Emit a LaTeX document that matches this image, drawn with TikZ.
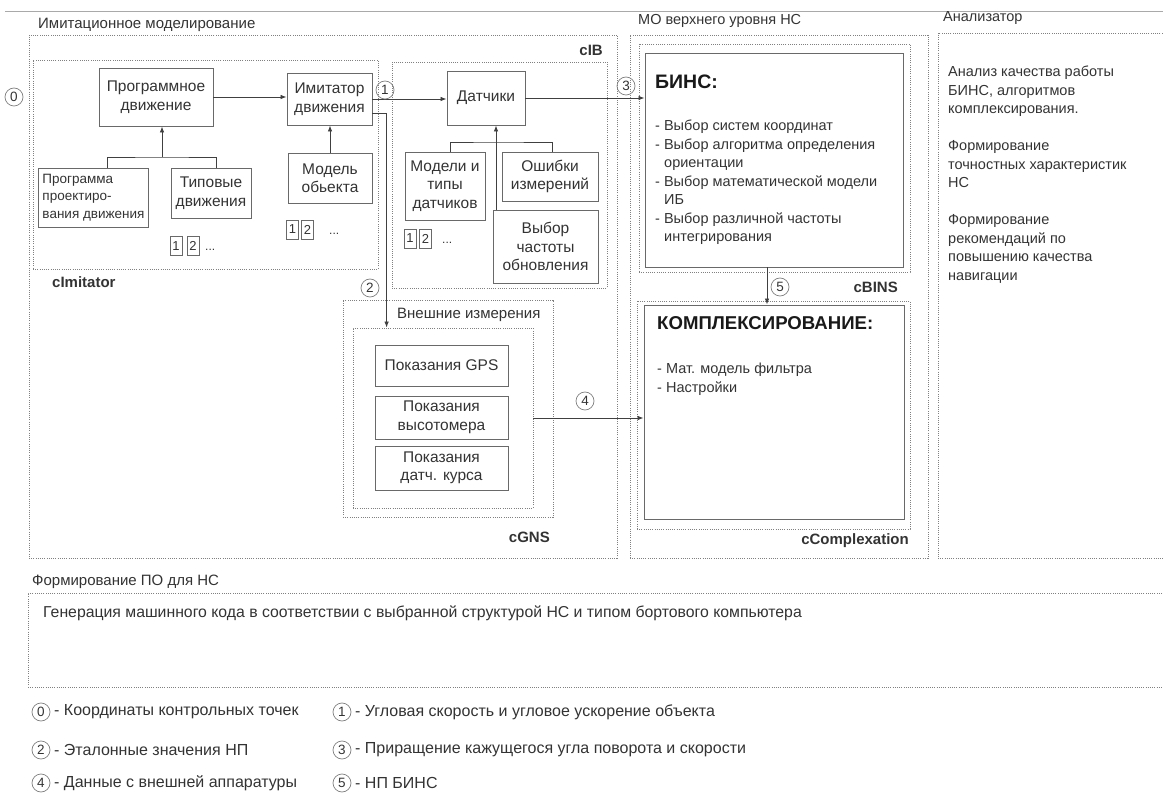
\PassOptionsToPackage{svgnames}{xcolor}
\documentclass[tikz,border=0pt]{standalone}
\usepackage{fontspec}
\setmainfont{Liberation Sans}
\usepackage{tikz}
\usetikzlibrary{arrows.meta,calc,positioning}

\begin{document}
\begin{tikzpicture}[
    x=1pt, y=-1pt,
    every node/.style={text=black!80},
    frame/.style={draw=Gray, line width=0.8pt, dash pattern=on 1pt off 1.2pt, inner sep=0pt},
    block/.style={draw=DimGray, line width=0.9pt, align=center, inner sep=0pt, font=\fontsize{15.5}{18.5}\selectfont},
    link/.style={draw=black!75, line width=0.8pt, -{Latex[length=6pt,width=4.5pt]}},
    wire/.style={draw=black!75, line width=0.8pt},
    numbadge/.style={circle, draw=Gray, line width=0.7pt, minimum size=18pt, inner sep=0pt, font=\fontsize{13.5}{13.5}\selectfont},
    tab/.style={draw=DimGray, line width=0.7pt, minimum width=12pt, minimum height=19pt, inner sep=0pt, font=\fontsize{13}{13}\selectfont},
    txt/.style={inner sep=0pt, font=\fontsize{14.5}{18.5}\selectfont},
    legend/.style={inner sep=0pt, anchor=west, font=\fontsize{16}{16}\selectfont},
    tag/.style={inner sep=0pt, font=\bfseries\fontsize{15}{15}\selectfont}
]
    \useasboundingbox (0,0) rectangle (1163,794);
    \clip (0,0) rectangle (1163,794);
    \draw[DarkGray, line width=0.8pt] (5,11) -- (1163,11);

    % --- Section frames ---
    \node[frame, minimum width=588pt, minimum height=523pt] (simbox) at (323,296.5) {};
    \node[frame, minimum width=298pt, minimum height=523pt] (mobox) at (779,296.5) {};
    \node[frame, minimum width=237pt, minimum height=525pt] (anbox) at (1056.5,295.5) {};
    \node[frame, minimum width=1147pt, minimum height=94pt] (swbox) at (601.5,640) {};
    \node[txt, anchor=west, font=\fontsize{15}{15}\selectfont] (simtitle) at (38,25) {Имитационное моделирование};
    \node[txt, anchor=west] (motitle) at (638,21) {МО верхнего уровня НС};
    \node[txt, anchor=west] (antitle) at (943,18) {Анализатор};
    \node[txt, anchor=west, font=\fontsize{15}{15}\selectfont] (swtitle) at (32,582) {Формирование ПО для НС};

    % --- cImitator ---
    \node[frame, minimum width=345pt, minimum height=209pt] (imitbox) at (205.5,164.5) {};
    \node[tag, anchor=west] (imittag) at (52,282) {cImitator};
    \node[block, minimum width=114pt, minimum height=58pt] (prog) at (156,97) {Программное\\движение};
    \node[block, minimum width=85pt, minimum height=52pt] (imit) at (329.5,99) {Имитатор\\движения};
    \node[block, minimum width=110pt, minimum height=59pt, align=left, font=\fontsize{13.5}{17.5}\selectfont] (pp) at (93,197.5) {\hspace*{4pt}Программа\\\hspace*{4pt}проектиро-\\\hspace*{4pt}вания движения\hspace*{3pt}};
    \node[block, minimum width=80pt, minimum height=50pt] (tip) at (211,193) {Типовые\\движения};
    \node[block, minimum width=84pt, minimum height=50pt] (mobj) at (330,178) {Модель\\обьекта};
    \node[tab] (pa1) at (176,246) {1};
    \node[tab] (pa2) at (193,246) {2};
    \node[txt, anchor=west, font=\fontsize{12}{12}\selectfont] (pamore) at (205,250) {...};
    \node[tab] (pb1) at (292.5,229.5) {1};
    \node[tab] (pb2) at (307.5,229.5) {2};
    \node[txt, anchor=west, font=\fontsize{12}{12}\selectfont] (pbmore) at (329,234) {...};

    % --- cIB ---
    \node[frame, minimum width=215pt, minimum height=226pt] (ibbox) at (499.5,175) {};
    \node[tag, anchor=east] (ibtag) at (603,50) {cIB};
    \node[block, minimum width=78pt, minimum height=54pt] (dat) at (486,98) {Датчики};
    \node[block, minimum width=80pt, minimum height=68pt] (mod) at (445,186) {Модели и\\типы\\датчиков};
    \node[block, minimum width=96pt, minimum height=49pt] (osh) at (550,176.5) {Ошибки\\измерений};
    \node[block, minimum width=105pt, minimum height=73pt] (vyb) at (545.5,246.5) {Выбор\\частоты\\обновления};
    \node[tab] (pc1) at (410,238.5) {1};
    \node[tab] (pc2) at (425.5,238.5) {2};
    \node[txt, anchor=west, font=\fontsize{12}{12}\selectfont] (pcmore) at (442,243) {...};

    % --- cGNS ---
    \node[frame, minimum width=210pt, minimum height=217pt] (gnsbox) at (448,408.5) {};
    \node[frame, minimum width=180pt, minimum height=180pt] (gnsin) at (443,418) {};
    \node[txt, anchor=west, font=\fontsize{15}{15}\selectfont] (gnstitle) at (397,315) {Внешние измерения};
    \node[tag, anchor=east] (gnstag) at (550,537) {cGNS};
    \node[block, minimum width=133pt, minimum height=41pt] (gps) at (441.5,365.5) {Показания GPS};
    \node[block, minimum width=133pt, minimum height=43pt] (alt) at (441.5,417.5) {Показания\\высотомера};
    \node[block, minimum width=133pt, minimum height=44pt] (crs) at (441.5,468) {Показания\\датч. курса};

    % --- cBINS ---
    \node[frame, minimum width=271pt, minimum height=228pt] (binsbox) at (774.5,158) {};
    \node[block, minimum width=258pt, minimum height=214pt] (bins) at (774,160) {};
    \node[tag, anchor=east] (binstag) at (898,287) {cBINS};
    \node[inner sep=0pt, anchor=west, font=\bfseries\fontsize{19.5}{19.5}\selectfont, text=black!90] (binstitle) at (655,82) {БИНС:};
    \node[txt, anchor=north west, align=left] (binslist) at (655,120)
        {- Выбор систем координат\\- Выбор алгоритма определения\\\hspace*{9pt}ориентации\\- Выбор математической модели\\\hspace*{9pt}ИБ\\- Выбор различной частоты\\\hspace*{9pt}интегрирования};

    % --- cComplexation ---
    \node[frame, minimum width=273pt, minimum height=228pt] (cmplxbox) at (773.5,415) {};
    \node[block, minimum width=260pt, minimum height=214pt] (cmplx) at (774,412) {};
    \node[tag, anchor=east] (cmplxtag) at (909,541) {cComplexation};
    \node[inner sep=0pt, anchor=west, font=\bfseries\fontsize{18.6}{18.6}\selectfont, text=black!90] (cmplxtitle) at (657,323) {КОМПЛЕКСИРОВАНИЕ:};
    \node[txt, anchor=north west, align=left] (cmplxlist) at (657,363) {- Мат. модель фильтра\\- Настройки};

    % --- Анализатор ---
    \node[txt, anchor=north west, align=left] (antext) at (948,66)
        {Анализ качества работы\\БИНС, алгоритмов\\комплексирования.\\[18.5pt]Формирование\\точностных характеристик\\НС\\[18.5pt]Формирование\\рекомендаций по\\повышению качества\\навигации};

    % --- ПО для НС ---
    \node[txt, anchor=west, font=\fontsize{15.8}{15.8}\selectfont] (swtext) at (43,613) {Генерация машинного кода в соответствии с выбранной структурой НС и типом бортового компьютера};

    % --- Connectors ---
    \draw[link] (prog.east) -- (prog.east -| imit.west);
    \coordinate (progfork) at (162,157);
    \draw[wire] ([xshift=14pt]pp.north) |- (progfork) -| ([xshift=5pt]tip.north);
    \draw[link] (progfork) -- (progfork |- prog.south);
    \draw[link] (mobj.north) -- (mobj.north |- imit.south);
    \draw[link] (imit.east) -- (imit.east -| dat.west);
    \draw[link] (dat.east) -- (dat.east -| bins.west);
    \coordinate (datfork) at (496,142);
    \draw[wire] ([xshift=5pt]mod.north) |- (datfork) -| ([xshift=2pt]osh.north);
    \draw[link] (datfork) -- (datfork |- dat.south);
    \draw[wire] (datfork) -- (datfork |- vyb.north);
    \draw[link] ([yshift=-14pt]imit.east) -| ([xshift=34pt]gnsin.north west);
    \draw[link] (gnsin.east) -- (gnsin.east -| cmplx.west);
    \draw[link] ([xshift=-7pt]bins.south) -- ([xshift=-7pt]bins.south |- cmplx.north);

    % --- Numbered links ---
    \node[numbadge] (n0) at (14,97) {0};
    \node[numbadge] (n1) at (385,90) {1};
    \node[numbadge] (n2) at (370,288) {2};
    \node[numbadge] (n3) at (626,86) {3};
    \node[numbadge] (n4) at (585,401) {4};
    \node[numbadge] (n5) at (780,287) {5};

    % --- Legend ---
    \node[numbadge] (l0) at (41,712) {0};
    \node[legend] (l0text) at (54,712) {- Координаты контрольных точек};
    \node[numbadge] (l2) at (41,750) {2};
    \node[legend] (l2text) at (54,750) {- Эталонные значения НП};
    \node[numbadge] (l4) at (41,783) {4};
    \node[legend] (l4text) at (54,783) {- Данные с внешней аппаратуры};
    \node[numbadge] (l1) at (342,712) {1};
    \node[legend] (l1text) at (355,712) {- Угловая скорость и угловое ускорение объекта};
    \node[numbadge] (l3) at (342,750) {3};
    \node[legend] (l3text) at (355,750) {- Приращение кажущегося угла поворота и скорости};
    \node[numbadge] (l5) at (342,783) {5};
    \node[legend] (l5text) at (355,783) {- НП БИНС};
\end{tikzpicture}
\end{document}
